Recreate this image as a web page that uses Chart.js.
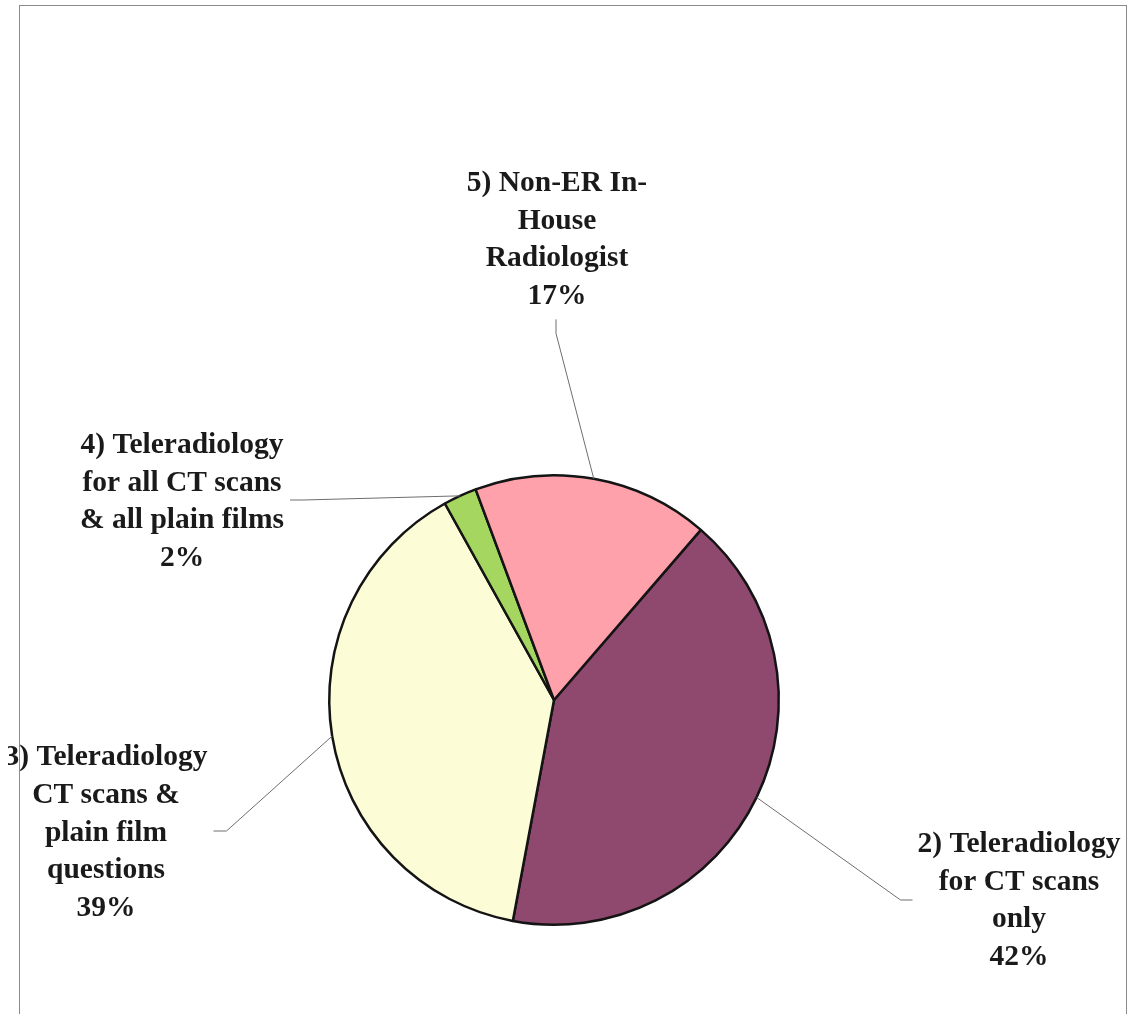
<!DOCTYPE html>
<html>
<head>
<meta charset="utf-8">
<style>
  html, body { margin: 0; padding: 0; background: #fff; }
  body { width: 1135px; height: 1014px; position: relative; overflow: hidden; }
  #wrap { position: absolute; left: 8px; top: 0; width: 1127px; height: 1014px; }
  #frame {
    position: absolute; left: 19px; top: 5px; width: 1108px; height: 1030px;
    border: 1px solid #8a8a8a; box-sizing: border-box; pointer-events: none;
  }
</style>
<script src="https://cdn.jsdelivr.net/npm/chart.js@4.4.0/dist/chart.umd.min.js"></script>
</head>
<body>
<div id="wrap"><canvas id="pieChart" width="1127" height="1014"></canvas></div>
<div id="frame"></div>
<script>
  // categories and values (percent of respondents)
  var categories = [
    ["2) Teleradiology", "for CT scans", "only"],
    ["3) Teleradiology", "CT scans &", "plain film", "questions"],
    ["4) Teleradiology", "for all CT scans", "& all plain films"],
    ["5) Non-ER In-", "House", "Radiologist"]
  ];
  var values = [41.6, 39.0, 2.4, 17.0];
  var sliceColors = ["#8f486e", "#fcfdd6", "#a5d660", "#ffa1ab"];

  // label block offsets from pie centre (layout only)
  var labelOffsets = [[465, 201], [-448, 133], [-372, -198], [3, -460]];

  var FONT = "bold 29.5px 'Liberation Serif', 'Times New Roman', serif";
  var LINE_H = 37.7;

  var labelPlugin = {
    id: "pieLabels",
    afterDatasetsDraw: function (chart) {
      var ctx = chart.ctx;
      var meta = chart.getDatasetMeta(0);
      var total = values.reduce(function (a, b) { return a + b; }, 0);

      ctx.save();
      ctx.font = FONT;
      ctx.textAlign = "center";
      ctx.textBaseline = "middle";

      meta.data.forEach(function (arc, i) {
        var lines = categories[i].slice();
        lines.push(Math.round(values[i] / total * 100) + "%");

        var cx = arc.x + labelOffsets[i][0];
        var cy = arc.y + labelOffsets[i][1];
        var blockW = 0;
        lines.forEach(function (t) {
          blockW = Math.max(blockW, ctx.measureText(t).width);
        });
        var blockH = lines.length * LINE_H;

        // leader line from the arc edge at mid angle
        var mid = (arc.startAngle + arc.endAngle) / 2;
        var ex = arc.x + Math.cos(mid) * arc.outerRadius;
        var ey = arc.y + Math.sin(mid) * arc.outerRadius;
        var ax, ay, bx, by;
        var dx = labelOffsets[i][0], dy = labelOffsets[i][1];
        if (Math.abs(dy) > Math.abs(dx)) {
          ax = cx - 1;
          ay = cy + blockH / 2 + 4;
          bx = ax;
          by = ay + 14;
        } else if (dx > 0) {
          ax = cx - blockW / 2 - 5;
          ay = cy - 1;
          bx = ax - 12;
          by = ay;
        } else {
          ax = cx + blockW / 2 + 6;
          ay = cy - 2;
          bx = ax + 13;
          by = ay;
        }
        ctx.beginPath();
        ctx.strokeStyle = "#6e6e6e";
        ctx.lineWidth = 1;
        ctx.moveTo(ex, ey);
        ctx.lineTo(bx, by);
        ctx.lineTo(ax, ay);
        ctx.stroke();

        ctx.fillStyle = "#1a1a1a";
        lines.forEach(function (t, k) {
          var y = cy + (k - (lines.length - 1) / 2) * LINE_H;
          ctx.fillText(t, cx, y);
        });
      });
      ctx.restore();
    }
  };

  new Chart(document.getElementById("pieChart").getContext("2d"), {
    type: "pie",
    data: {
      labels: categories.map(function (c) { return c.join(" "); }),
      datasets: [{
        data: values,
        backgroundColor: sliceColors,
        borderColor: "#141414",
        borderWidth: 2.5,
        hoverOffset: 0
      }]
    },
    options: {
      responsive: false,
      animation: false,
      rotation: 40.8,
      layout: { padding: { left: 320, right: 355, top: 474, bottom: 88 } },
      plugins: {
        legend: { display: false },
        tooltip: { enabled: false }
      }
    },
    plugins: [labelPlugin]
  });
</script>
</body>
</html>
